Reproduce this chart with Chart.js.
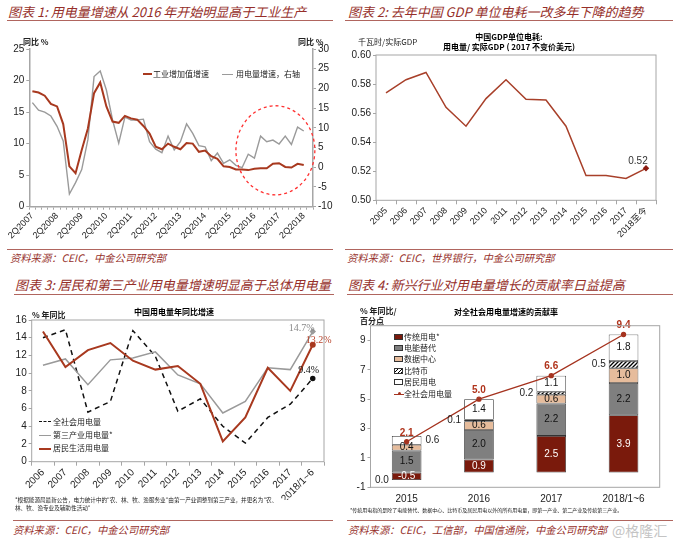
<!DOCTYPE html>
<html><head><meta charset="utf-8">
<script src="https://cdn.jsdelivr.net/npm/chart.js@4.4.1/dist/chart.umd.min.js"></script>
<style>
body{margin:0;width:673px;height:543px;position:relative;overflow:hidden;background:#fff;font-family:'Noto Sans CJK SC','Liberation Sans',sans-serif;}
.a{position:absolute;white-space:nowrap;}
.title{font-size:13px;line-height:16px;color:#962f2a;font-style:italic;}
.rule{position:absolute;height:0;border-top:1.5px solid #b0655e;}
.src{font-size:10.3px;line-height:12px;color:#962f2a;font-style:italic;}
canvas{position:absolute;}
.sm{font-size:8px;line-height:10px;color:#222;}
.ct{font-size:8px;line-height:10px;font-weight:bold;color:#000;text-align:center;}
.seg{position:absolute;height:0;}
.sw{position:absolute;width:9px;height:6px;box-sizing:border-box;border:1px solid #333;}
.fn{font-size:5.6px;line-height:8px;color:#222;}
</style></head>
<body>
<!-- titles -->
<div class="a title" style="left:8px;top:4px">图表 1: 用电量增速从 2016 年开始明显高于工业生产</div>
<div class="rule" style="left:7px;top:20px;width:326px"></div>
<div class="a title" style="left:348px;top:4px">图表 2: 去年中国 GDP 单位电耗一改多年下降的趋势</div>
<div class="rule" style="left:345px;top:20px;width:328px"></div>
<div class="a title" style="left:15px;top:277px">图表 3: 居民和第三产业用电量增速明显高于总体用电量</div>
<div class="rule" style="left:14px;top:294px;width:320px"></div>
<div class="a title" style="left:348px;top:277px">图表 4: 新兴行业对用电量增长的贡献率日益提高</div>
<div class="rule" style="left:347px;top:294px;width:326px"></div>

<!-- sources -->
<div class="rule" style="left:7px;top:249px;width:326px"></div>
<div class="a src" style="left:10px;top:252px">资料来源：CEIC，中金公司研究部</div>
<div class="rule" style="left:345px;top:249px;width:328px"></div>
<div class="a src" style="left:347px;top:252px">资料来源：CEIC，世界银行，中金公司研究部</div>
<div class="rule" style="left:13px;top:520px;width:320px"></div>
<div class="a src" style="left:13px;top:524px">资料来源：CEIC，中金公司研究部</div>
<div class="rule" style="left:347px;top:520px;width:326px"></div>
<div class="a src" style="left:348px;top:524px">资料来源：CEIC，工信部，中国信通院，中金公司研究部</div>
<div class="a" style="left:612px;top:521px;font-size:14px;line-height:18px;color:#c4c4c4;">@格隆汇</div>

<canvas id="c1" width="335" height="215" style="left:0;top:30px;width:335px;height:215px"></canvas>
<canvas id="c2" width="333" height="215" style="left:340px;top:28px;width:333px;height:215px"></canvas>
<canvas id="c3" width="340" height="200" style="left:0;top:300px;width:340px;height:200px"></canvas>
<canvas id="c4" width="333" height="206" style="left:340px;top:300px;width:333px;height:206px"></canvas>

<!-- panel 1 overlays -->
<div class="a sm" style="left:23px;top:37px;font-weight:bold">同比 %</div>
<div class="a sm" style="left:298px;top:37px;font-weight:bold">同比 %</div>
<div class="seg" style="left:143px;top:73px;width:9px;border-top:2px solid #a8391f"></div>
<div class="a sm" style="left:153px;top:69px">工业增加值增速</div>
<div class="seg" style="left:222px;top:73.5px;width:11px;border-top:1.5px solid #9a9a9a"></div>
<div class="a sm" style="left:236px;top:69px">用电量增速，右轴</div>

<!-- panel 2 overlays -->
<div class="a sm" style="left:358px;top:37px">千瓦时/实际GDP</div>
<div class="a ct" style="left:409px;top:32px;width:200px">中国GDP单位电耗:<br>用电量/ 实际GDP ( 2017 不变价美元)</div>

<!-- panel 3 overlays -->
<div class="a ct" style="left:94px;top:307px;width:160px">中国用电量年同比增速</div>
<div class="a sm" style="left:32px;top:310px;font-weight:bold">% 年同比</div>
<div class="seg" style="left:39px;top:421px;width:12px;border-top:1.5px dashed #111"></div>
<div class="a sm" style="left:53px;top:417px">全社会用电量</div>
<div class="seg" style="left:39px;top:434.5px;width:12px;border-top:1.5px solid #9a9a9a"></div>
<div class="a sm" style="left:53px;top:430px">第三产业用电量*</div>
<div class="seg" style="left:39px;top:447.5px;width:12px;border-top:2px solid #a8391f"></div>
<div class="a sm" style="left:53px;top:443px">居民生活用电量</div>
<div class="a fn" style="left:15px;top:496px">*根据能源局最新公告，电力统计中的"农、林、牧、渔服务业"由第一产业调整到第三产业，并更名为"农、</div>
<div class="a fn" style="left:15px;top:504px">林、牧、渔专业及辅助性活动"</div>

<!-- panel 4 overlays -->
<div class="a ct" style="left:426px;top:307px;width:160px">对全社会用电量增速的贡献率</div>
<div class="a sm" style="left:360px;top:306px;font-weight:bold">% 年同比/</div>
<div class="a sm" style="left:360px;top:316px;font-weight:bold">百分点</div>
<div class="sw" style="left:394px;top:333.7px;background:#7a1a0c"></div>
<div class="a sm" style="left:404px;top:331.7px">传统用电*</div>
<div class="sw" style="left:394px;top:345.3px;background:#7f7f7f"></div>
<div class="a sm" style="left:404px;top:343.3px">电能替代</div>
<div class="sw" style="left:394px;top:356.3px;background:#e6bc9c"></div>
<div class="a sm" style="left:404px;top:354.3px">数据中心</div>
<div class="sw" style="left:394px;top:367.7px;background:repeating-linear-gradient(-45deg,#000 0 1px,#fff 1px 2.5px)"></div>
<div class="a sm" style="left:404px;top:365.7px">比特币</div>
<div class="sw" style="left:394px;top:379px;background:#fff"></div>
<div class="a sm" style="left:404px;top:377px">居民用电</div>
<div class="seg" style="left:394px;top:393.5px;width:10px;border-top:1.2px solid #a5331f"></div>
<div class="a" style="left:397.5px;top:392px;width:3px;height:3px;border-radius:50%;background:#a5331f"></div>
<div class="a sm" style="left:404px;top:389px">全社会用电量</div>
<div class="a fn" style="left:350px;top:506px;font-size:5px">*传统用电指的是除了电能替代、数据中心、比特币及居民用电以外的所有用电量，即第一产业、第二产业及传统第三产业。</div>

<script>
// ---------------- DATA ----------------
const p1Labels = ['2Q2007','3Q2007','4Q2007','1Q2008','2Q2008','3Q2008','4Q2008','1Q2009','2Q2009','3Q2009','4Q2009',
  '1Q2010','2Q2010','3Q2010','4Q2010','1Q2011','2Q2011','3Q2011','4Q2011','1Q2012','2Q2012','3Q2012','4Q2012',
  '1Q2013','2Q2013','3Q2013','4Q2013','1Q2014','2Q2014','3Q2014','4Q2014','1Q2015','2Q2015','3Q2015','4Q2015',
  '1Q2016','2Q2016','3Q2016','4Q2016','1Q2017','2Q2017','3Q2017','4Q2017','1Q2018','2Q2018','3Q2018'];
const p1Industry = [18.3,18.1,17.6,16.3,15.9,13.1,6.4,5.3,9.0,12.4,18.0,19.7,15.9,13.5,13.3,14.4,14.0,13.8,12.8,11.6,9.5,9.1,10.0,
  9.5,9.1,10.1,10.0,8.7,8.9,8.0,7.6,6.4,6.3,5.9,5.9,5.8,6.0,6.1,6.1,6.8,6.9,6.3,6.2,6.8,6.6,null];
const p1Power = [16.4,14.5,14.0,13.0,10.4,6.7,-6.8,-3.9,-0.6,7.0,23.0,24.4,19.6,12.0,6.1,12.7,12.0,12.0,12.2,6.5,4.6,3.7,7.9,
  4.4,6.5,11.0,8.6,5.5,5.2,1.7,3.6,1.0,1.9,0.5,-0.1,3.3,2.3,7.9,6.5,6.9,5.9,7.9,5.8,10.2,9.2,null];

const p2Labels = ['2005','2006','2007','2008','2009','2010','2011','2012','2013','2014','2015','2016','2017','2018至今'];
const p2Values = [0.574,0.583,0.588,0.564,0.551,0.570,0.583,0.5695,0.569,0.551,0.517,0.517,0.515,0.522];

const p3Labels = ['2006','2007','2008','2009','2010','2011','2012','2013','2014','2015','2016','2017','2018/1~6'];
const p3Total = [14.0,14.9,5.6,6.8,14.8,11.9,5.7,7.1,4.0,2.1,5.0,6.5,9.4];
const p3Tertiary = [10.9,11.6,8.7,11.5,11.7,12.4,9.8,8.8,5.5,6.8,10.6,10.4,14.7];
const p3Residential = [14.7,10.7,12.6,13.4,11.4,10.4,10.8,8.8,2.3,5.0,10.6,8.0,13.2];

const p4Labels = ['2015','2016','2017','2018/1~6'];
const p4Traditional = [-0.5,0.9,2.5,3.9];
const p4Substitution = [1.5,2.0,2.2,2.2];
const p4DataCenter = [0.4,0.6,0.6,1.0];
const p4Bitcoin = [0.0,0.1,0.2,0.5];
const p4Residential = [0.6,1.4,1.1,1.8];
const p4Total = [2.1,5.0,6.6,9.4];

// ---------------- STYLE ----------------
Chart.defaults.font.family = "'Liberation Sans','Noto Sans CJK SC',sans-serif";
Chart.defaults.color = '#222';
const RED = '#a8391f', GRAY = '#9a9a9a', AX = '#a6a6a6';

const base = {responsive:false, animation:false, devicePixelRatio:1, events:[],
  plugins:{legend:{display:false}, tooltip:{enabled:false}}};

function boxPlugin(color){
  return {id:'box', afterDraw(chart){
    const a = chart.chartArea, c = chart.ctx;
    c.save(); c.strokeStyle = color; c.lineWidth = 1; c.strokeRect(a.left, a.top, a.right-a.left, a.bottom-a.top); c.restore();
  }};
}

// ---------------- PANEL 1 ----------------
const p1Highlight = {index:39.4, value:4.3, spanIndex:6.4, spanValue:11.3};
const ellipsePlugin = {id:'ellipse', afterDatasetsDraw(chart){
  const x = chart.scales.x, y = chart.scales.yR, c = chart.ctx;
  const cx = x.getPixelForValue(p1Highlight.index), cy = y.getPixelForValue(p1Highlight.value);
  const rx = Math.abs(x.getPixelForValue(p1Highlight.index + p1Highlight.spanIndex) - cx);
  const ry = Math.abs(y.getPixelForValue(p1Highlight.value + p1Highlight.spanValue) - cy);
  c.save(); c.strokeStyle = '#ff3030'; c.lineWidth = 1.3; c.setLineDash([3,3]);
  c.beginPath(); c.ellipse(cx, cy, rx, ry, 0, 0, Math.PI*2); c.stroke(); c.restore();
}};
new Chart(document.getElementById('c1'), {
  type:'line',
  data:{labels:p1Labels, datasets:[
    {data:p1Industry, yAxisID:'yL', borderColor:RED, borderWidth:2, pointRadius:0, tension:0},
    {data:p1Power, yAxisID:'yR', borderColor:GRAY, borderWidth:1.4, pointRadius:0, tension:0}
  ]},
  options:Object.assign({}, base, {
    layout:{padding:{top:19, left:0, right:0, bottom:0}},
    scales:{
      x:{offset:true, grid:{display:true, drawOnChartArea:false, offset:true, tickLength:3, color:AX},
         border:{color:AX, width:1.5},
         ticks:{autoSkip:false, maxRotation:45, minRotation:45, padding:1, font:{size:9},
                callback:(v,i)=> i%4===0 ? p1Labels[i] : ''},
         afterFit:s=>{s.height = 38.3;}},
      yL:{position:'left', min:0, max:25, ticks:{stepSize:5, font:{size:10}, padding:2},
          grid:{drawOnChartArea:false, tickLength:3, color:AX}, border:{color:AX, width:1.5},
          afterFit:s=>{s.width = 29.3;}},
      yR:{position:'right', min:-10, max:30, ticks:{stepSize:5, font:{size:10}, padding:2},
          grid:{drawOnChartArea:false, tickLength:3, color:AX}, border:{color:AX, width:1.5},
          afterFit:s=>{s.width = 22;}}
    }
  }),
  plugins:[ellipsePlugin]
});

// ---------------- PANEL 2 ----------------
const p2Label = {id:'p2label', afterDatasetsDraw(chart){
  const m = chart.getDatasetMeta(0), i = p2Values.length-1, p = m.data[i], c = chart.ctx;
  c.save(); c.font = "10px 'Liberation Sans'"; c.fillStyle = '#333'; c.textAlign='center'; c.textBaseline='middle';
  c.fillText(p2Values[i].toFixed(2), p.x - 8, p.y - 7); c.restore();
}};
new Chart(document.getElementById('c2'), {
  type:'line',
  data:{labels:p2Labels, datasets:[
    {data:p2Values, borderColor:'#a8402a', borderWidth:1.5, tension:0,
     pointRadius:ctx=> ctx.dataIndex===p2Values.length-1 ? 2.2 : 0, pointStyle:'rectRot',
     pointBackgroundColor:'#8b1a10', pointBorderColor:'#8b1a10'}
  ]},
  options:Object.assign({}, base, {
    layout:{padding:{top:27, right:17}},
    scales:{
      x:{offset:true, grid:{display:true, drawOnChartArea:false, offset:true, tickLength:4, color:AX},
         border:{display:false},
         ticks:{autoSkip:false, maxRotation:45, minRotation:45, padding:1, font:{size:9}},
         afterFit:s=>{s.height = 42.7;}},
      y:{min:0.5, max:0.6, ticks:{stepSize:0.02, font:{size:10}, padding:2, callback:v=>Number(v).toFixed(2)},
         grid:{drawOnChartArea:false, tickLength:3, color:AX}, border:{display:false},
         afterFit:s=>{s.width = 36;}}
    }
  }),
  plugins:[boxPlugin(AX), p2Label]
});

// ---------------- PANEL 3 ----------------
const p3LabelStyle = [
  {dx:6, dy:-4, color:'#b8432b'},
  {dx:-11, dy:-3, color:'#8a8a8a'},
  {dx:-4, dy:-8.5, color:'#111'}
];
const p3Labels2 = {id:'p3labels', afterDatasetsDraw(chart){
  const c = chart.ctx;
  chart.data.datasets.forEach((ds, k)=>{
    const m = chart.getDatasetMeta(k), i = ds.data.length-1, p = m.data[i], st = p3LabelStyle[k];
    c.save(); c.font = "10px 'Liberation Serif'"; c.fillStyle = st.color; c.textAlign='center'; c.textBaseline='middle';
    c.fillText(ds.data[i].toFixed(1)+'%', p.x + st.dx, p.y + st.dy); c.restore();
  });
}};
const lastOnly = r => (ctx => ctx.dataIndex === ctx.dataset.data.length-1 ? r : 0);
new Chart(document.getElementById('c3'), {
  type:'line',
  data:{labels:p3Labels, datasets:[
    {data:p3Residential, borderColor:RED, borderWidth:2, pointRadius:lastOnly(2), pointBackgroundColor:RED, pointBorderColor:RED, tension:0},
    {data:p3Tertiary, borderColor:GRAY, borderWidth:1.5, pointRadius:lastOnly(2.2), pointStyle:'rectRot', pointBackgroundColor:GRAY, pointBorderColor:GRAY, tension:0},
    {data:p3Total, borderColor:'#111', borderWidth:1.5, borderDash:[5,4], pointRadius:lastOnly(2), pointBackgroundColor:'#111', pointBorderColor:'#111', tension:0}
  ]},
  options:Object.assign({}, base, {
    layout:{padding:{top:20, right:16}},
    scales:{
      x:{offset:true, grid:{display:true, drawOnChartArea:false, offset:true, tickLength:4, color:AX},
         border:{display:false},
         ticks:{autoSkip:false, maxRotation:45, minRotation:45, padding:1, font:{size:10}},
         afterFit:s=>{s.height = 38.3;}},
      y:{min:0, max:16, ticks:{stepSize:2, font:{size:10}, padding:2},
         grid:{drawOnChartArea:false, tickLength:3, color:AX}, border:{display:false},
         afterFit:s=>{s.width = 31.7;}}
    }
  }),
  plugins:[boxPlugin(AX), p3Labels2]
});

// ---------------- PANEL 4 ----------------
function hatch(){
  const cv = document.createElement('canvas'); cv.width = cv.height = 4;
  const g = cv.getContext('2d'); g.fillStyle='#fff'; g.fillRect(0,0,4,4);
  g.strokeStyle='#000'; g.lineWidth=1.3; g.beginPath();
  g.moveTo(0,4); g.lineTo(4,0); g.moveTo(-1,1); g.lineTo(1,-1); g.moveTo(3,5); g.lineTo(5,3); g.stroke();
  return g.createPattern(cv,'repeat');
}
const barCommon = {borderColor:'#333', borderWidth:0.8, borderSkipped:false, order:1, categoryPercentage:1, barPercentage:0.41};
const p4Values = {id:'p4values', afterDatasetsDraw(chart){
  const c = chart.ctx;
  c.save(); c.font = "10px 'Liberation Sans'"; c.textBaseline='middle';
  chart.data.datasets.forEach((ds, k)=>{
    const m = chart.getDatasetMeta(k);
    ds.data.forEach((v, i)=>{
      const el = m.data[i];
      if (ds.type === 'line'){
        c.fillStyle = '#b0341c'; c.font = "bold 10px 'Liberation Sans'"; c.textAlign='center';
        c.fillText(v.toFixed(1), el.x, el.y - 9); c.font = "10px 'Liberation Sans'";
        return;
      }
      const cy = (el.y + el.base)/2, h = Math.abs(el.base - el.y), half = el.width/2;
      if (ds.labelSide === 'left'){
        c.fillStyle = '#222'; c.textAlign='right'; c.fillText(v.toFixed(1), el.x - half - 3, cy);
      } else if (ds.labelSide === 'auto' && h < 12){
        c.fillStyle = '#222'; c.textAlign='left'; c.fillText(v.toFixed(1), el.x + half + 4, cy);
      } else {
        c.fillStyle = ds.labelColor; c.textAlign='center'; c.fillText(v.toFixed(1), el.x, cy);
      }
    });
  });
  c.restore();
}};
new Chart(document.getElementById('c4'), {
  type:'bar',
  data:{labels:p4Labels, datasets:[
    {type:'line', data:p4Total, stack:'total', borderColor:'#a5331f', borderWidth:1.3, pointRadius:2,
     pointBackgroundColor:'#a5331f', pointBorderColor:'#a5331f', order:0, tension:0},
    Object.assign({data:p4Traditional, backgroundColor:'#7a1a0c', labelColor:'#fff'}, barCommon),
    Object.assign({data:p4Substitution, backgroundColor:'#7f7f7f', labelColor:'#111'}, barCommon),
    Object.assign({data:p4DataCenter, backgroundColor:'#e6bc9c', labelColor:'#111'}, barCommon),
    Object.assign({data:p4Bitcoin, backgroundColor:hatch(), labelColor:'#111', labelSide:'left'}, barCommon),
    Object.assign({data:p4Residential, backgroundColor:'#fff', labelColor:'#111', labelSide:'auto'}, barCommon)
  ]},
  options:Object.assign({}, base, {
    layout:{padding:{top:25.7, right:13.3}},
    scales:{
      x:{stacked:true, grid:{display:false, drawTicks:false}, border:{display:false},
         ticks:{font:{size:10}, padding:6}, afterFit:s=>{s.height = 18.7;}},
      y:{stacked:true, min:-1, max:10, ticks:{stepSize:1, font:{size:10}, padding:2},
         grid:{drawOnChartArea:true, tickLength:3, tickColor:AX,
               color:ctx=> (ctx.tick && ctx.tick.value===0) ? AX : 'rgba(0,0,0,0)'},
         border:{display:false}, afterFit:s=>{s.width = 30.5;}}
    }
  }),
  plugins:[boxPlugin(AX), p4Values]
});
</script>
</body></html>
